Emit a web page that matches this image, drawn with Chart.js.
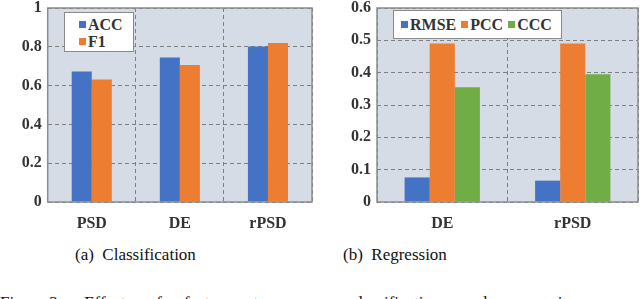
<!DOCTYPE html>
<html>
<head>
<meta charset="utf-8">
<script src="https://cdn.jsdelivr.net/npm/chart.js@4.4.0/dist/chart.umd.min.js"></script>
<style>
  body { margin: 0; background: #fff; width: 640px; height: 299px; overflow: hidden; position: relative; font-family: "Liberation Serif", "Times New Roman", serif; }
  .panel { position: absolute; top: -6px; width: 320px; height: 236px; }
  .legend { position: absolute; background: #fff; border: 1px solid #8a8a8a; box-sizing: border-box; font-weight: bold; font-size: 16px; color: #333; }
  .legend .item { display: flex; align-items: center; white-space: nowrap; }
  .legend .sw { width: 7px; height: 7px; margin-right: 2px; }
  .caption { position: absolute; font-size: 17px; color: #111; white-space: nowrap; }
</style>
</head>
<body>
<div class="panel" style="left:0"><canvas id="cls" width="320" height="236"></canvas></div>
<div class="panel" style="left:320px"><canvas id="reg" width="320" height="236"></canvas></div>
<div id="clsLegend" class="legend" style="left:64px; top:12px; width:70px; height:40px; padding:3px 0 0 14px;"></div>
<div id="regLegend" class="legend" style="left:393px; top:10px; width:169px; height:29px; padding:0 0 0 7px; display:flex; align-items:center;"></div>
<div class="caption" style="left:75px; top:245px;">(a)&nbsp; Classification</div>
<div class="caption" style="left:343px; top:245px;">(b)&nbsp; Regression</div>
<div class="caption" style="left:0; top:293px; word-spacing:18px;">Fig. 2. Effect of feature types on classification and regression</div>
<script>
// classification panel
const clsLabels = ['PSD', 'DE', 'rPSD'];
const accValues = [0.673, 0.745, 0.802];
const f1Values = [0.631, 0.706, 0.82];

// regression panel
const regLabels = ['DE', 'rPSD'];
const rmseValues = [0.076, 0.066];
const pccValues = [0.49, 0.49];
const cccValues = [0.355, 0.395];

const BLUE = '#4472c4', ORANGE = '#ed7d31', GREEN = '#70ad47';
const FONT = '"Liberation Serif", "Times New Roman", serif';

// plot area fill + solid frame, like the Excel original
const plotFrame = {
    id: 'plotFrame',
    beforeDraw(chart) {
        const { ctx, chartArea: a } = chart;
        ctx.save();
        ctx.fillStyle = '#d6dce5';
        ctx.fillRect(a.left, a.top, a.right - a.left, a.bottom - a.top);
        ctx.restore();
    },
    afterDraw(chart) {
        const { ctx, chartArea: a } = chart;
        ctx.save();
        ctx.strokeStyle = '#8c8c8c';
        ctx.lineWidth = 1.5;
        ctx.strokeRect(a.left, a.top, a.right - a.left, a.bottom - a.top);
        ctx.restore();
    }
};

function makeChart(id, labels, datasets, yMax, yStep, catPct, yWidth, pad) {
    return new Chart(document.getElementById(id), {
        type: 'bar',
        data: { labels: labels, datasets: datasets },
        options: {
            responsive: false,
            animation: false,
            layout: { padding: pad },
            plugins: { legend: { display: false }, tooltip: { enabled: false } },
            datasets: { bar: { categoryPercentage: catPct, barPercentage: 1 } },
            scales: {
                x: {
                    grid: { color: '#7f7f7f', lineWidth: 1, drawTicks: false, offset: true },
                    border: { display: false, dash: [4, 3] },
                    ticks: { color: '#333', padding: 12, font: { family: FONT, size: 16, weight: 'bold' } },
                    afterFit(scale) { scale.height = 28; }
                },
                y: {
                    min: 0, max: yMax,
                    grid: { color: '#7f7f7f', lineWidth: 1, drawTicks: false },
                    border: { display: false, dash: [4, 3] },
                    ticks: {
                        stepSize: yStep, color: '#333', padding: 6,
                        font: { family: FONT, size: 16, weight: 'bold', lineHeight: 1 },
                        callback: v => String(Math.round(v * 10) / 10)
                    },
                    afterFit(scale) { scale.width = yWidth; }
                }
            }
        },
        plugins: [plotFrame]
    });
}

const clsChart = makeChart('cls', clsLabels, [
    { label: 'ACC', data: accValues, backgroundColor: BLUE },
    { label: 'F1', data: f1Values, backgroundColor: ORANGE }
], 1, 0.2, 0.455, 47.7, { top: 0, right: 8, left: 0, bottom: 0 });

const regChart = makeChart('reg', regLabels, [
    { label: 'RMSE', data: rmseValues, backgroundColor: BLUE },
    { label: 'PCC', data: pccValues, backgroundColor: ORANGE },
    { label: 'CCC', data: cccValues, backgroundColor: GREEN }
], 0.6, 0.1, 0.577, 57, { top: 0, right: 2, left: 0, bottom: 0 });

// html legends built from the chart datasets
function buildLegend(chart, el, rowH, gap) {
    chart.data.datasets.forEach(function (ds) {
        const item = document.createElement('div');
        item.className = 'item';
        item.style.height = rowH + 'px';
        item.style.marginRight = gap + 'px';
        const sw = document.createElement('span');
        sw.className = 'sw';
        sw.style.background = ds.backgroundColor;
        const txt = document.createElement('span');
        txt.textContent = ds.label;
        item.appendChild(sw);
        item.appendChild(txt);
        el.appendChild(item);
    });
}
buildLegend(clsChart, document.getElementById('clsLegend'), 17, 0);
buildLegend(regChart, document.getElementById('regLegend'), 20, 5);
</script>
</body>
</html>
